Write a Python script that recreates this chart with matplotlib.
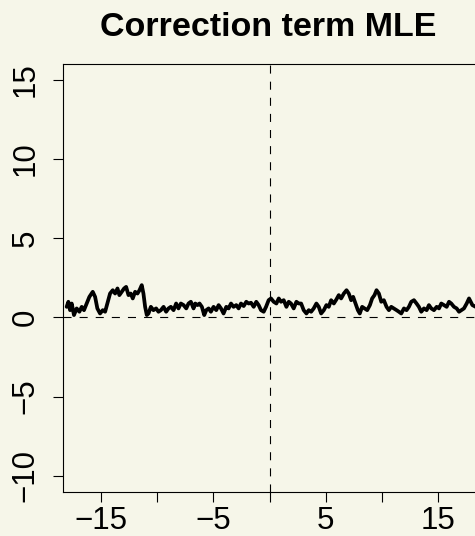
import matplotlib
matplotlib.use("Agg")
import matplotlib.pyplot as plt
import numpy as np

plt.rcParams["font.family"] = ["Liberation Sans", "DejaVu Sans"]
plt.rcParams["lines.scale_dashes"] = False

# Estimated correction term along the grid
grid_x = [
    -18.06, -17.91, -17.76, -17.61, -17.41, -17.17, -16.93, -16.72, -16.52, -16.28,
    -16.04, -15.74, -15.53, -15.33, -15.09, -14.85, -14.64, -14.44, -14.20, -13.96,
    -13.75, -13.54, -13.37, -13.16, -12.95, -12.77, -12.56, -12.36, -12.18, -11.97,
    -11.76, -11.58, -11.38, -11.23, -11.08, -10.93, -10.78, -10.57, -10.34, -10.10,
    -9.89, -9.68, -9.44, -9.21, -9.00, -8.79, -8.55, -8.32, -8.11, -7.90,
    -7.66, -7.42, -7.22, -7.01, -6.77, -6.62, -6.41, -6.24, -6.03, -5.82,
    -5.64, -5.43, -5.23, -4.99, -4.75, -4.54, -4.33, -4.10, -3.86, -3.65,
    -3.44, -3.21, -2.97, -2.76, -2.55, -2.31, -2.08, -1.87, -1.66, -1.42,
    -1.19, -0.98, -0.77, -0.53, -0.32, -0.09, 0.12, 0.36, 0.60, 0.81,
    1.01, 1.25, 1.49, 1.70, 1.90, 2.14, 2.38, 2.59, 2.80, 3.03,
    3.27, 3.48, 3.69, 3.92, 4.16, 4.37, 4.58, 4.82, 5.05, 5.26,
    5.47, 5.71, 5.94, 6.15, 6.36, 6.60, 6.84, 7.04, 7.25, 7.43,
    7.64, 7.85, 8.02, 8.23, 8.44, 8.68, 8.92, 9.12, 9.33, 9.51,
    9.72, 9.93, 10.16, 10.40, 10.61, 10.82, 11.05, 11.29, 11.50, 11.71,
    11.95, 12.18, 12.39, 12.60, 12.84, 13.07, 13.28, 13.49, 13.73, 13.97,
    14.17, 14.38, 14.62, 14.86, 15.07, 15.27, 15.51, 15.75, 15.96, 16.16,
    16.40, 16.64, 16.85, 17.06, 17.29, 17.53, 17.74, 17.89, 18.04, 18.33,
]
correction = [
    0.67, 0.99, 0.46, 0.88, 0.15, 0.57, 0.36, 0.67, 0.46, 0.88,
    1.30, 1.62, 1.30, 0.57, 0.25, 0.46, 0.36, 0.88, 1.51, 1.72,
    1.51, 1.83, 1.41, 1.62, 1.83, 1.93, 1.41, 1.51, 1.20, 1.62,
    1.51, 1.72, 2.04, 1.51, 0.67, 0.15, 0.25, 0.67, 0.46, 0.57,
    0.36, 0.46, 0.67, 0.36, 0.57, 0.67, 0.46, 0.88, 0.57, 0.88,
    0.78, 0.57, 0.88, 0.99, 0.57, 0.88, 0.78, 0.88, 0.67, 0.15,
    0.46, 0.57, 0.36, 0.67, 0.46, 0.78, 0.57, 0.25, 0.67, 0.57,
    0.88, 0.67, 0.78, 0.57, 0.88, 0.72, 0.99, 0.88, 0.93, 0.67,
    0.99, 0.78, 0.46, 0.36, 0.67, 1.09, 1.20, 0.99, 0.88, 1.20,
    0.99, 1.09, 0.67, 0.99, 0.88, 0.57, 0.99, 0.88, 0.88, 0.46,
    0.25, 0.46, 0.36, 0.57, 0.88, 0.67, 0.25, 0.46, 0.78, 0.67,
    1.09, 0.88, 1.14, 1.41, 1.20, 1.51, 1.72, 1.51, 1.09, 1.30,
    0.88, 0.46, 0.25, 0.67, 0.57, 0.46, 0.78, 1.20, 1.41, 1.72,
    1.51, 0.99, 1.09, 0.67, 0.46, 0.67, 0.57, 0.46, 0.36, 0.25,
    0.57, 0.46, 0.67, 0.99, 1.09, 0.88, 0.67, 0.36, 0.57, 0.46,
    0.78, 0.57, 0.46, 0.67, 0.57, 0.88, 0.78, 0.67, 0.99, 0.88,
    0.67, 0.57, 0.36, 0.46, 0.57, 0.88, 1.20, 0.99, 0.78, 0.67,
]
x_ticks = [-15, -10, -5, 0, 5, 10, 15]
x_tick_labels = ["\u221215", "", "\u22125", "", "5", "", "15"]
y_ticks = [-10, -5, 0, 5, 10, 15]
y_tick_labels = ["\u221210", "\u22125", "0", "5", "10", "15"]
title = "Correction term MLE"

bg = "#F6F6E9"
W, H = 475, 536
fig = plt.figure(figsize=(W / 100, H / 100), dpi=100, facecolor=bg)
left, right, top, bottom = 63.3, 476.0, 64.0, 491.7
ax = fig.add_axes([left / W, 1 - bottom / H, (right - left) / W, (bottom - top) / H])
ax.set_facecolor(bg)

ax.set_xlim(-18.36, 18.36)
ax.set_ylim(-11.0, 16.0)

# reference lines through the origin
ax.axvline(0, color="black", lw=0.8, ls=(0, (5.8, 5.8)), zorder=1)
ax.axhline(0, color="black", lw=0.8, ls=(0, (5.8, 5.8)), zorder=1)

ax.plot(grid_x, correction, color="black", lw=2.7, solid_joinstyle="round",
        solid_capstyle="round", zorder=3)

for s in ["left", "bottom", "top"]:
    ax.spines[s].set_linewidth(0.8)
ax.spines["right"].set_visible(False)

ax.set_xticks(x_ticks)
ax.set_xticklabels(x_tick_labels)
ax.set_yticks(y_ticks)
ax.set_yticklabels(y_tick_labels, rotation=90, va="center")
ax.tick_params(axis="both", direction="out", length=7.2, width=0.8,
               labelsize=22.5, colors="black")
ax.tick_params(axis="x", pad=3)
ax.tick_params(axis="y", pad=9)

fig.text(268.5 / W, 1 - 36 / H, title, ha="center", va="baseline",
         fontsize=24.5, fontweight="bold")

fig.savefig("out.png", dpi=100, facecolor=bg)
